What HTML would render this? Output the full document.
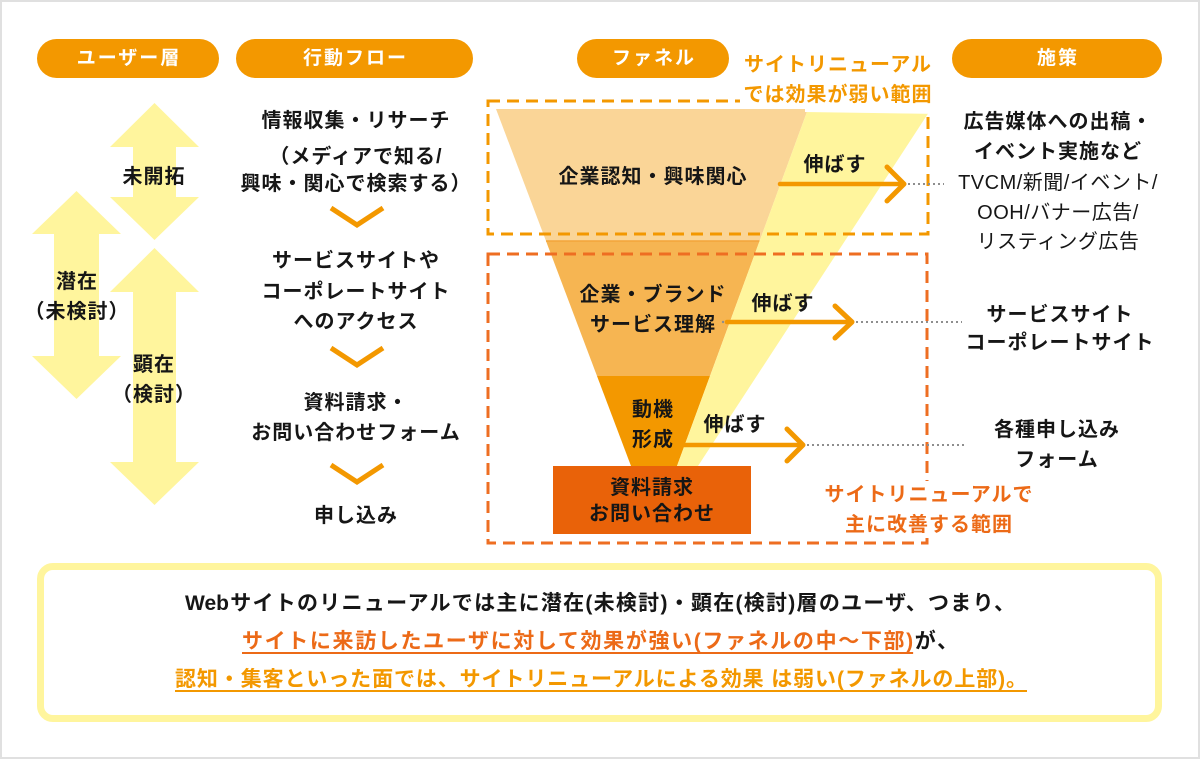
<!DOCTYPE html>
<html lang="ja">
<head>
<meta charset="utf-8">
<style>
html,body{margin:0;padding:0;background:#fff;}
body{width:1200px;height:759px;position:relative;overflow:hidden;font-family:"Liberation Sans","Noto Sans CJK JP",sans-serif;color:#161616;}
.frame{position:absolute;left:0;top:0;width:1200px;height:759px;box-sizing:border-box;border:2px solid #e0e0e0;}
.pill{position:absolute;top:39px;height:39px;border-radius:20px;background:#F39800;color:#fff;font-size:19px;font-weight:700;letter-spacing:2px;text-align:center;line-height:39px;padding-left:2px;box-sizing:border-box;}
.t{position:absolute;width:300px;height:30px;line-height:30px;text-align:center;font-size:20px;font-weight:700;letter-spacing:1px;white-space:nowrap;}
.n{font-weight:400;letter-spacing:0.5px;}
.or{color:#F39800;}
.rd{color:#EC6A17;}
.bx{position:absolute;left:37px;top:563px;width:1125px;height:159px;box-sizing:border-box;border:7px solid #FFF59D;border-radius:16px;}
.bl{position:absolute;height:30px;line-height:30px;font-size:21px;font-weight:700;text-align:justify;text-align-last:justify;}
.u1{color:#EC6A17;text-decoration:underline;text-decoration-thickness:2px;text-underline-offset:4px;}
.u2{color:#F39800;text-decoration:underline;text-decoration-thickness:2px;text-underline-offset:4px;}
</style>
</head>
<body>
<svg width="1200" height="759" style="position:absolute;left:0;top:0">
  <!-- yellow arrows -->
  <polygon fill="#FFF59D" points="154.5,103 199,147 176,147 176,197 199,197 154.5,240 110,197 133,197 133,147 110,147"/>
  <polygon fill="#FFF59D" points="76.5,191 121,234 99,234 99,356 121,356 76.5,399 32,356 54,356 54,234 32,234"/>
  <polygon fill="#FFF59D" points="154.5,248 199,292 176,292 176,462 199,462 154.5,505 110,462 133,462 133,292 110,292"/>
  <!-- funnel -->
  <polygon fill="#FAD597" points="496,109 808,109 759.6,241 546,241"/>
  <polygon fill="#F6B552" points="546,241 759.6,241 710,376 597,376"/>
  <line x1="546" y1="241" x2="759.6" y2="241" stroke="#F3A53A" stroke-width="1.5"/>
  <polygon fill="#F39800" points="597,376 710,376 677,466 631,466"/>
  <polygon fill="#FFF59D" points="808,109 931,109 698,466 677,466"/>
  <!-- dashed boxes -->
  <rect x="488" y="101" width="440" height="133" fill="none" stroke="#F39800" stroke-width="3" stroke-dasharray="12 7"/>
  <rect x="488" y="254" width="439" height="289" fill="none" stroke="#EE6E22" stroke-width="3" stroke-dasharray="12 7"/>
  <!-- label backgrounds -->
  <polygon fill="#fff" points="740,44 942,44 942,114 805,112 805,106 740,106"/>
  <rect x="822" y="481" width="214" height="57" fill="#fff"/>
  <!-- arrows -->
  <g stroke="#F39800" fill="none" stroke-linecap="round" stroke-linejoin="round">
    <line x1="780" y1="184" x2="902" y2="184" stroke-width="4.5"/>
    <polyline points="887,167 904,184 887,201" stroke-width="5"/>
    <line x1="727" y1="322" x2="850" y2="322" stroke-width="4.5"/>
    <polyline points="835,306 852,322 835,338" stroke-width="5"/>
    <line x1="683" y1="445" x2="801" y2="445" stroke-width="4.5"/>
    <polyline points="787,429 803,445 787,461" stroke-width="5"/>
  </g>
  <g stroke="#8e8e8e" stroke-width="2" stroke-dasharray="2 3">
    <line x1="908" y1="184" x2="944" y2="184"/>
    <line x1="856" y1="322" x2="962" y2="322"/>
    <line x1="807" y1="445" x2="967" y2="445"/>
  </g>
  <circle cx="723" cy="322" r="1.2" fill="#8e8e8e"/>
  <!-- flow chevrons -->
  <g stroke="#F39800" stroke-width="5" fill="none" stroke-linejoin="miter">
    <polyline points="331,208 357,225 383,208"/>
    <polyline points="331,348 357,365 383,348"/>
    <polyline points="331,465 357,482 383,465"/>
  </g>
  <!-- final box -->
  <rect x="553" y="466" width="198" height="68" fill="#E96209"/>
</svg>

<div class="frame"></div>

<!-- header pills -->
<div class="pill" style="left:37px;width:182px;">ユーザー層</div>
<div class="pill" style="left:236px;width:237px;">行動フロー</div>
<div class="pill" style="left:577px;width:152px;">ファネル</div>
<div class="pill" style="left:952px;width:210px;">施策</div>

<!-- user layer texts -->
<div class="t" style="left:4px;top:162px;">未開拓</div>
<div class="t" style="left:-73px;top:267px;">潜在</div>
<div class="t" style="left:-73px;top:297px;">（未検討）</div>
<div class="t" style="left:4px;top:350px;">顕在</div>
<div class="t" style="left:4px;top:380px;">（検討）</div>

<!-- behavior flow -->
<div class="t" style="left:206px;top:106px;">情報収集・リサーチ</div>
<div class="t" style="left:206px;top:142px;">（メディアで知る/</div>
<div class="t" style="left:206px;top:169px;">興味・関心で検索する）</div>
<div class="t" style="left:206px;top:246px;">サービスサイトや</div>
<div class="t" style="left:206px;top:277px;">コーポレートサイト</div>
<div class="t" style="left:206px;top:307px;">へのアクセス</div>
<div class="t" style="left:206px;top:388px;">資料請求・</div>
<div class="t" style="left:206px;top:418px;">お問い合わせフォーム</div>
<div class="t" style="left:206px;top:501px;">申し込み</div>

<!-- funnel texts -->
<div class="t" style="left:503px;top:162px;">企業認知・興味関心</div>
<div class="t" style="left:503px;top:280px;">企業・ブランド</div>
<div class="t" style="left:503px;top:310px;">サービス理解</div>
<div class="t" style="left:503px;top:395px;">動機</div>
<div class="t" style="left:503px;top:425px;">形成</div>
<div class="t" style="left:502px;top:473px;">資料請求</div>
<div class="t" style="left:502px;top:499px;">お問い合わせ</div>

<!-- extend labels -->
<div class="t" style="left:685px;top:150px;">伸ばす</div>
<div class="t" style="left:633px;top:289px;">伸ばす</div>
<div class="t" style="left:585px;top:410px;">伸ばす</div>

<!-- range labels -->
<div class="t or" style="left:688px;top:50px;">サイトリニューアル</div>
<div class="t or" style="left:688px;top:80px;">では効果が弱い範囲</div>
<div class="t rd" style="left:779px;top:480px;">サイトリニューアルで</div>
<div class="t rd" style="left:779px;top:510px;">主に改善する範囲</div>

<!-- measures -->
<div class="t" style="left:908px;top:107px;">広告媒体への出稿・</div>
<div class="t" style="left:908px;top:137px;">イベント実施など</div>
<div class="t n" style="left:908px;top:168px;">TVCM/新聞/イベント/</div>
<div class="t n" style="left:908px;top:198px;">OOH/バナー広告/</div>
<div class="t n" style="left:908px;top:227px;">リスティング広告</div>
<div class="t" style="left:910px;top:300px;">サービスサイト</div>
<div class="t" style="left:910px;top:328px;">コーポレートサイト</div>
<div class="t" style="left:907px;top:415px;">各種申し込み</div>
<div class="t" style="left:907px;top:445px;">フォーム</div>

<!-- bottom summary -->
<div class="bx"></div>
<div class="bl" style="left:185px;top:589px;width:830px;">Webサイトのリニューアルでは主に潜在(未検討)・顕在(検討)層のユーザ、つまり、</div>
<div class="bl" style="left:242px;top:627px;width:716px;"><span class="u1">サイトに来訪したユーザに対して効果が強い(ファネルの中〜下部)</span>が、</div>
<div class="bl" style="left:175px;top:665px;width:852px;"><span class="u2">認知・集客といった面では、サイトリニューアルによる効果 は弱い(ファネルの上部)。</span></div>
</body>
</html>
